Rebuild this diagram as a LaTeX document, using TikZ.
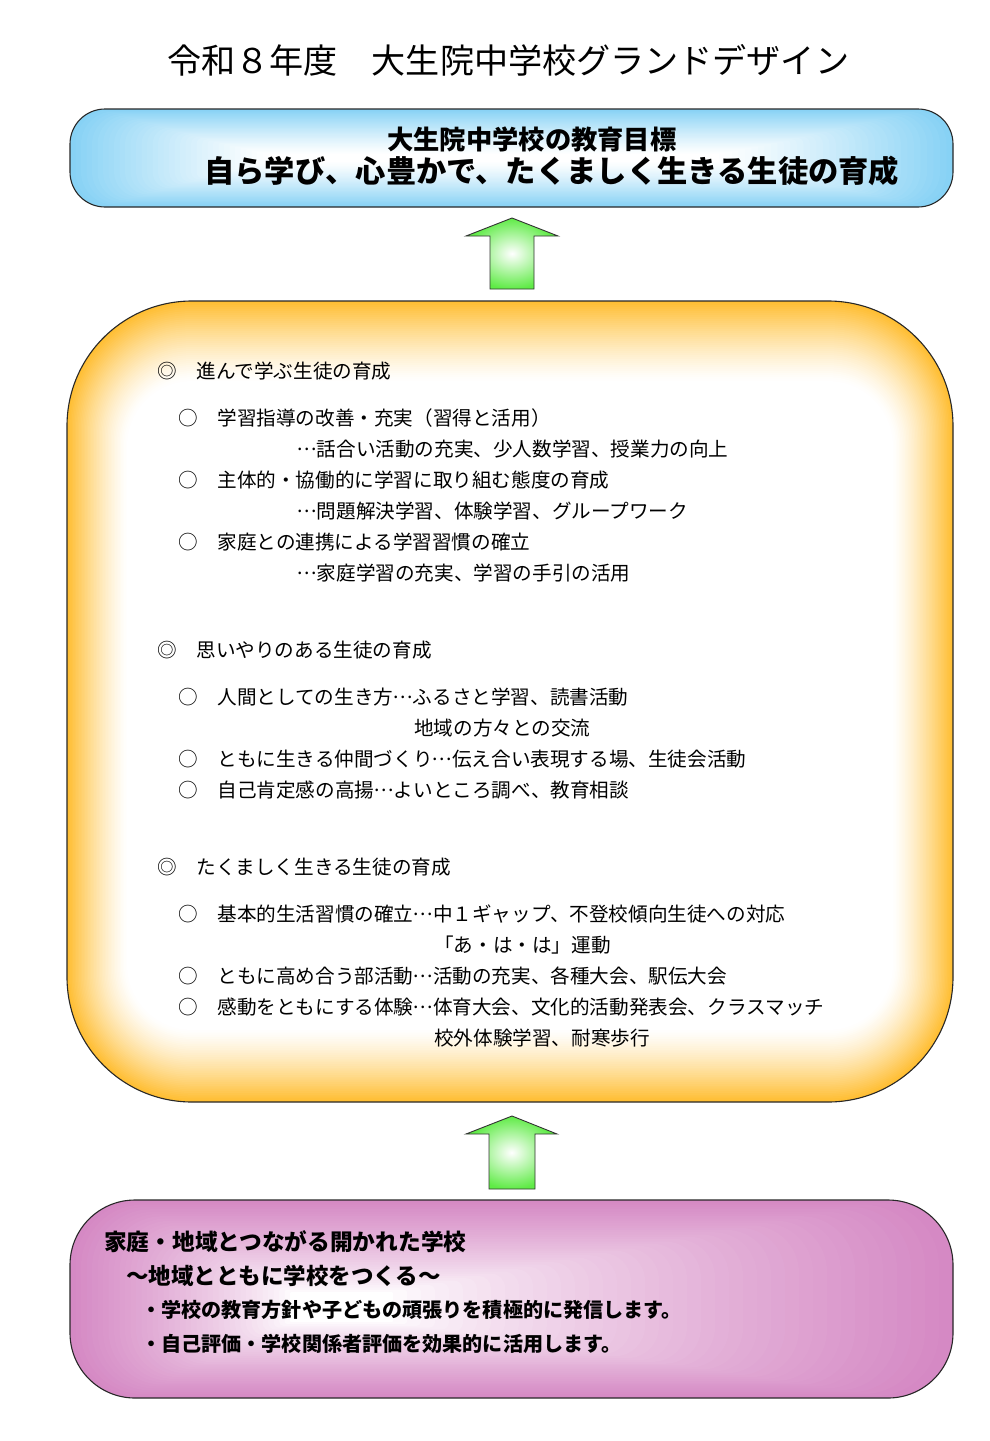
\documentclass[tikz,border=0pt]{standalone}
\usepackage{fontspec}
\setmainfont{Noto Sans CJK JP}
\usetikzlibrary{calc}
\newcommand\fwell{\makebox[1em][c]{\raisebox{0.3em}{.\kern0.07em.\kern0.07em.}}}
\definecolor{blueedge}{RGB}{135,210,245}
\definecolor{orangeedge}{RGB}{255,190,50}
\definecolor{pinkedge}{RGB}{213,137,196}
\definecolor{arrowgreen}{RGB}{95,235,70}
\definecolor{boxline}{RGB}{40,40,40}
\tikzset{
  mtext/.style={anchor=west, inner sep=0pt, font=\fontsize{19.6}{22}\selectfont},
  btext/.style={anchor=west, inner sep=0pt, font=\fontsize{20.1}{23}\selectfont\bfseries},
  boxframe/.style={draw=boxline, line width=1.1pt, inner sep=0pt},
  uparrow/.style={draw=black!80, line width=0.9pt, shading=radial, inner color=white, outer color=arrowgreen},
}
\begin{document}
\begin{tikzpicture}[x=1pt,y=-1pt]
\useasboundingbox (0,0) rectangle (990,1441);
\fill[white] (0,0) rectangle (990,1441);

% title
\node[anchor=west, inner sep=0pt, font=\fontsize{34.1}{40}\selectfont] (title) at (167,60) {令和８年度　大生院中学校グランドデザイン};

% ---------- top box (goal) ----------
\foreach \i in {0,...,36}{
  \pgfmathsetmacro\p{100*(1-\i/36)^1.2}
  \pgfmathsetmacro\r{max(35-\i*1.25,0.5)}
  \fill[blueedge!\p!white, rounded corners=\r pt] ({70+\i*5.5},{109+\i*1.25}) rectangle ({953-\i*6.5},{207-\i*1.25});
}
\node[boxframe, rounded corners=35pt, minimum width=883pt, minimum height=98pt] (goal) at (511.5,158) {};
\node[anchor=west, inner sep=0pt, font=\fontsize{26.3}{30}\selectfont\bfseries] (goal1) at (387,139) {大生院中学校の教育目標};
\node[anchor=west, inner sep=0pt, font=\fontsize{30.3}{36}\selectfont\bfseries] (goal2) at (204,171) {自ら学び、心豊かで、たくましく生きる生徒の育成};

% ---------- arrow 1 ----------
\path[uparrow] (512,218) -- (558,236) -- (534,236) -- (534,289) -- (490,289) -- (490,236) -- (466,236) -- cycle;

% ---------- middle box ----------
\foreach \i in {0,...,40}{
  \pgfmathsetmacro\p{100*(1-\i/40)^1.3}
  \pgfmathsetmacro\r{max(125-\i*1.5,0.5)}
  \fill[orangeedge!\p!white, rounded corners=\r pt] ({67+\i*1.5},{301+\i*2}) rectangle ({953-\i*1.5},{1102-\i*1.8});
}
\node[boxframe, rounded corners=125pt, minimum width=886pt, minimum height=801pt] (mid) at (510,701.5) {};

\node[mtext] (s1) at (157,371) {◎　進んで学ぶ生徒の育成};
\node[mtext] (s1a) at (178,418) {○　学習指導の改善・充実（習得と活用）};
\node[mtext] (s1b) at (297,449) {\fwell 話合い活動の充実、少人数学習、授業力の向上};
\node[mtext] (s1c) at (178,480) {○　主体的・協働的に学習に取り組む態度の育成};
\node[mtext] (s1d) at (297,511) {\fwell 問題解決学習、体験学習、グループワーク};
\node[mtext] (s1e) at (178,542) {○　家庭との連携による学習習慣の確立};
\node[mtext] (s1f) at (297,573) {\fwell 家庭学習の充実、学習の手引の活用};

\node[mtext] (s2) at (157,650) {◎　思いやりのある生徒の育成};
\node[mtext] (s2a) at (178,697) {○　人間としての生き方\fwell ふるさと学習、読書活動};
\node[mtext] (s2b) at (414,728) {地域の方々との交流};
\node[mtext] (s2c) at (178,759) {○　ともに生きる仲間づくり\fwell 伝え合い表現する場、生徒会活動};
\node[mtext] (s2d) at (178,790) {○　自己肯定感の高揚\fwell よいところ調べ、教育相談};

\node[mtext] (s3) at (157,867) {◎　たくましく生きる生徒の育成};
\node[mtext] (s3a) at (178,914) {○　基本的生活習慣の確立\fwell 中１ギャップ、不登校傾向生徒への対応};
\node[mtext] (s3b) at (434,945) {「あ・は・は」運動};
\node[mtext] (s3c) at (178,976) {○　ともに高め合う部活動\fwell 活動の充実、各種大会、駅伝大会};
\node[mtext] (s3d) at (178,1007) {○　感動をともにする体験\fwell 体育大会、文化的活動発表会、クラスマッチ};
\node[mtext] (s3e) at (434,1038) {校外体験学習、耐寒歩行};

% ---------- arrow 2 ----------
\path[uparrow] (512,1116) -- (557,1134) -- (535,1134) -- (535,1189) -- (489,1189) -- (489,1134) -- (466,1134) -- cycle;

% ---------- bottom box ----------
\foreach \i in {0,...,40}{
  \pgfmathsetmacro\p{100*(1-\i/40)^0.8}
  \pgfmathsetmacro\r{max(65-\i*1.6,0.5)}
  \fill[pinkedge!\p!white, rounded corners=\r pt] ({70+\i*5.5},{1200+\i*2.3}) rectangle ({953-\i*14},{1398-\i*1.9});
}
\node[boxframe, rounded corners=65pt, minimum width=883pt, minimum height=198pt] (base) at (511.5,1299) {};
\node[anchor=west, inner sep=0pt, font=\fontsize{22.7}{26}\selectfont\bfseries] (b1) at (104,1242) {家庭・地域とつながる開かれた学校};
\node[anchor=west, inner sep=0pt, font=\fontsize{22.5}{26}\selectfont\bfseries] (b2) at (126,1276) {～地域とともに学校をつくる～};
\node[btext] (b3) at (141,1310) {・学校の教育方針や子どもの頑張りを積極的に発信します。};
\node[btext] (b4) at (141,1344) {・自己評価・学校関係者評価を効果的に活用します。};
\end{tikzpicture}
\end{document}
